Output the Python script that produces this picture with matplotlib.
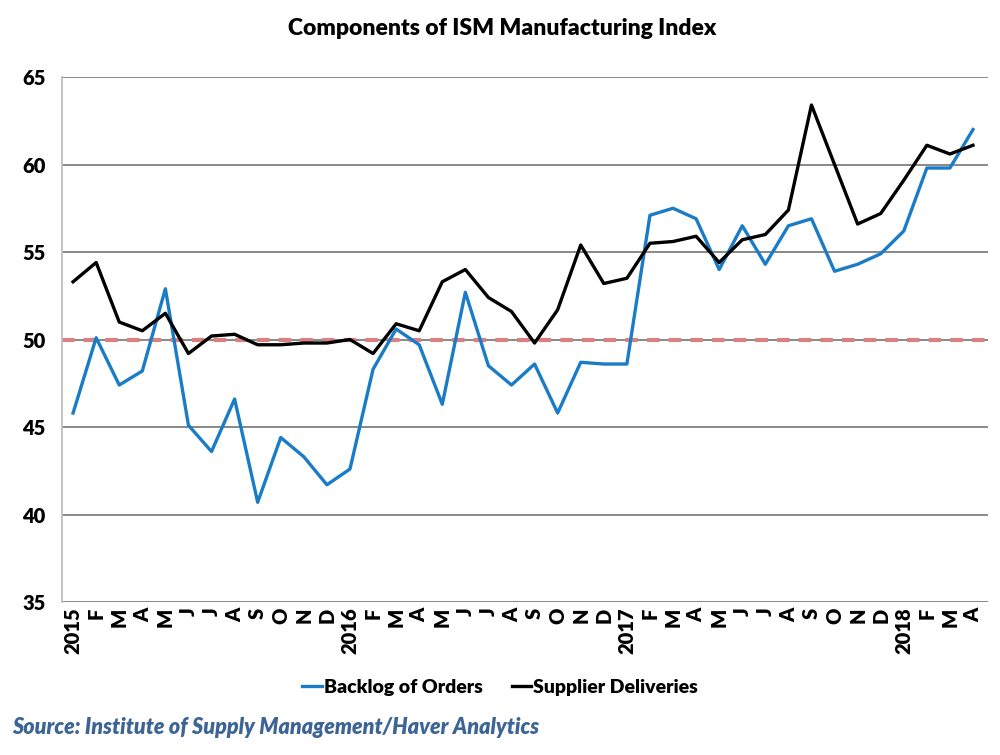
import matplotlib.pyplot as plt
from matplotlib.lines import Line2D

# monthly values, Jan 2015 - Apr 2018
months = ["2015", "F", "M", "A", "M", "J", "J", "A", "S", "O", "N", "D",
          "2016", "F", "M", "A", "M", "J", "J", "A", "S", "O", "N", "D",
          "2017", "F", "M", "A", "M", "J", "J", "A", "S", "O", "N", "D",
          "2018", "F", "M", "A"]

backlog = [45.8, 50.1, 47.4, 48.2, 52.9, 45.1, 43.6, 46.6, 40.7, 44.4, 43.3, 41.7,
           42.6, 48.3, 50.6, 49.7, 46.3, 52.7, 48.5, 47.4, 48.6, 45.8, 48.7, 48.6,
           48.6, 57.1, 57.5, 56.9, 54.0, 56.5, 54.3, 56.5, 56.9, 53.9, 54.3, 54.9,
           56.2, 59.8, 59.8, 62.0]

supplier = [53.3, 54.4, 51.0, 50.5, 51.5, 49.2, 50.2, 50.3, 49.7, 49.7, 49.8, 49.8,
            50.0, 49.2, 50.9, 50.5, 53.3, 54.0, 52.4, 51.6, 49.8, 51.7, 55.4, 53.2,
            53.5, 55.5, 55.6, 55.9, 54.4, 55.7, 56.0, 57.4, 63.4, 60.0, 56.6, 57.2,
            59.1, 61.1, 60.6, 61.1]

threshold = 50

plt.rcParams["font.family"] = ["Lato", "DejaVu Sans"]

fig = plt.figure(figsize=(10, 7.55), dpi=100)
ax = fig.add_axes([0.062, 0.2026, 0.926, 0.6954])

x = range(len(months))
ax.set_ylim(35, 65)
ax.set_xlim(-0.48, 39.65)
ax.set_yticks(range(35, 66, 5))
for yv in range(35, 66, 5):
    ax.axhline(yv, color="#7f7f7f", linewidth=1.3, zorder=1)

ax.axhline(threshold, color="#d98080", linewidth=3, linestyle=(0, (3, 2.2)), zorder=2)
ax.plot(x, backlog, color="#1a7cc7", linewidth=2.4, zorder=3, label="Backlog of Orders")
ax.plot(x, supplier, color="black", linewidth=2.4, zorder=4, label="Supplier Deliveries")

ax.set_xticks(list(x))
ax.set_xticklabels(months, rotation=90, fontweight="heavy", fontsize=14.5)
ax.tick_params(axis="x", length=0, pad=4)
ax.tick_params(axis="y", length=0, labelsize=14.5, pad=12)
for lbl in ax.get_yticklabels():
    lbl.set_fontweight("heavy")

for side in ["top", "right", "bottom"]:
    ax.spines[side].set_visible(False)
ax.spines["left"].set_color("#bfbfbf")
ax.spines["left"].set_linewidth(1.3)

fig.text(0.502, 0.962, "Components of ISM Manufacturing Index", ha="center", va="center",
         fontsize=16.5, fontweight="heavy")

handles = [Line2D([], [], color="#1a7cc7", linewidth=2.4),
           Line2D([], [], color="black", linewidth=2.4)]
fig.legend(handles, ["Backlog of Orders", "Supplier Deliveries"], loc="center",
           bbox_to_anchor=(0.5, 0.089), ncol=2, frameon=False, handlelength=1.0,
           handletextpad=0.1, columnspacing=1.5, prop={"size": 14, "weight": "heavy"})

fig.text(0.012, 0.036, "Source: Institute of Supply Management/Haver Analytics",
         ha="left", va="center", fontsize=15.5, fontweight="heavy", fontstyle="italic",
         color="#3d6496")

fig.savefig("out.png", dpi=100)
